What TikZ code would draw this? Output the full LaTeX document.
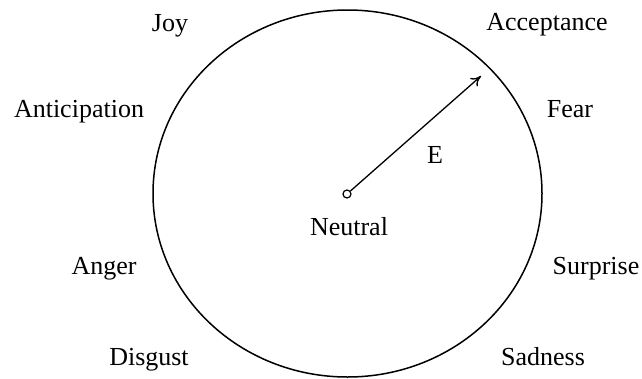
\documentclass[tikz,border=0pt]{standalone}
\usepackage{fontspec}
\setmainfont{Liberation Serif}
\usetikzlibrary{arrows.meta}
\begin{document}
\begin{tikzpicture}[x=1pt,y=-1pt,
  lbl/.style={anchor=base, font=\fontsize{26}{29}\selectfont, inner sep=0pt},
  dot/.style={circle, draw, line width=1.2pt, minimum size=8pt, inner sep=0pt},
  >={To[length=10pt,width=11pt]}]
\useasboundingbox (0,0) rectangle (642,378);
\draw[line width=1.5pt] (347.5,193.5) ellipse [x radius=194.5, y radius=183.5];
\node[dot] (neutral) at (347,194) {};
\coordinate (tip) at (481,76);
\draw[->, line width=1.3pt] (neutral) -- (tip);
\node[lbl] (e) at (435,163) {E};
\node[lbl] (nl) at (349,235) {Neutral};
\node[lbl] (joy) at (170,31) {Joy};
\node[lbl] (acc) at (547,30) {Acceptance};
\node[lbl] (ant) at (79,117) {Anticipation};
\node[lbl] (fear) at (570,117) {Fear};
\node[lbl] (anger) at (104,274) {Anger};
\node[lbl] (sur) at (596,274) {Surprise};
\node[lbl] (dis) at (149,365) {Disgust};
\node[lbl] (sad) at (543,365) {Sadness};
\end{tikzpicture}
\end{document}
